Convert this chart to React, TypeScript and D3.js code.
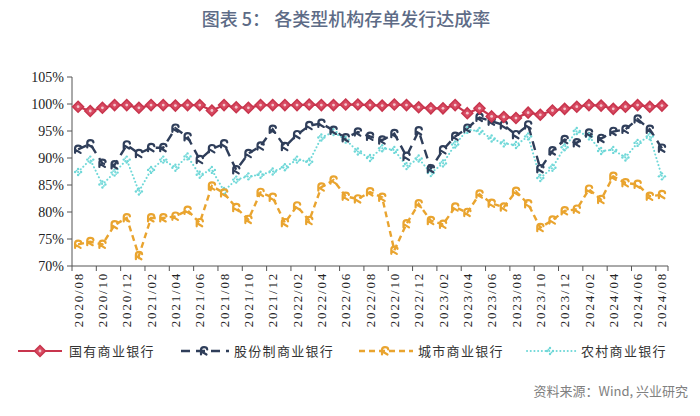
import React from "react";
import * as d3 from "d3";

const months = [
  "2020/08","2020/09","2020/10","2020/11","2020/12","2021/01","2021/02","2021/03","2021/04","2021/05",
  "2021/06","2021/07","2021/08","2021/09","2021/10","2021/11","2021/12","2022/01","2022/02","2022/03",
  "2022/04","2022/05","2022/06","2022/07","2022/08","2022/09","2022/10","2022/11","2022/12","2023/01",
  "2023/02","2023/03","2023/04","2023/05","2023/06","2023/07","2023/08","2023/09","2023/10","2023/11",
  "2023/12","2024/01","2024/02","2024/03","2024/04","2024/05","2024/06","2024/07","2024/08",
];

const stateOwned = [
  99.5, 98.7, 99.3, 99.8, 99.8, 99.3, 99.8, 99.8, 99.7, 99.8,
  99.8, 98.8, 99.8, 99.4, 99.3, 99.8, 99.8, 99.8, 99.8, 99.9,
  99.8, 99.8, 99.9, 99.9, 99.8, 99.7, 99.9, 99.8, 99.4, 99.2,
  99.2, 99.8, 98.3, 99.2, 97.7, 97.6, 97.4, 98.4, 98.0, 98.8,
  99.1, 99.5, 99.8, 99.7, 99.1, 99.5, 99.8, 99.5, 99.7,
];

const jointStock = [
  91.6, 92.6, 89.0, 88.7, 92.4, 90.8, 91.9, 91.9, 95.5, 93.9,
  89.7, 91.7, 92.6, 87.8, 90.8, 92.2, 95.3, 92.1, 94.3, 96.0,
  96.4, 95.1, 93.7, 94.8, 94.0, 93.3, 94.5, 90.3, 95.0, 88.0,
  91.5, 94.0, 95.5, 97.5, 96.8, 96.1, 94.3, 96.1, 88.0, 91.3,
  93.4, 92.8, 94.6, 93.6, 94.9, 95.3, 97.2, 95.3, 91.8,
];

const cityBanks = [
  74.0, 74.5, 74.0, 77.6, 78.9, 71.9, 78.9, 78.9, 79.2, 80.3,
  78.0, 84.8, 83.5, 80.8, 78.6, 83.6, 82.7, 78.0, 81.1, 78.4,
  84.6, 85.9, 82.9, 82.4, 83.7, 82.7, 72.9, 77.8, 81.5, 78.4,
  77.7, 80.9, 79.9, 83.3, 81.6, 80.9, 83.8, 81.5, 77.1, 78.5,
  80.2, 80.5, 84.2, 82.3, 86.6, 85.4, 85.1, 82.9, 83.2,
];

const ruralBanks = [
  87.4, 89.7, 85.1, 87.3, 89.7, 83.8, 87.8, 89.7, 88.2, 90.3,
  86.9, 87.8, 83.9, 86.0, 86.6, 86.9, 87.5, 88.3, 89.7, 89.3,
  93.8, 94.8, 93.4, 91.2, 90.0, 91.8, 91.5, 88.5, 89.9, 87.2,
  89.0, 92.5, 95.2, 95.0, 93.6, 92.7, 92.4, 94.0, 86.3, 88.2,
  92.0, 95.0, 94.0, 91.3, 91.5, 90.1, 92.8, 94.0, 86.6,
];

const yTicks = [70, 75, 80, 85, 90, 95, 100, 105];
const seriesNames = ["国有商业银行", "股份制商业银行", "城市商业银行", "农村商业银行"];

const RED = "#c8354d";
const BLUE = "#2f3e5a";
const ORANGE = "#e9a42f";
const CYAN = "#6fd8d8";

const W = 700, H = 416;
const L = 72, R = 668, T = 77, B = 266;

function Marker({ kind, x, y }: { kind: number; x: number; y: number }) {
  if (kind === 0) {
    return (
      <g transform={`translate(${x},${y})`}>
        <path d="M0,-5.5 L5.5,0 L0,5.5 L-5.5,0 Z" fill="#d84a62" stroke={RED} strokeWidth={1.5} />
        <circle r={1.4} fill="#f4c6cd" />
      </g>
    );
  }
  if (kind === 1 || kind === 2) {
    const c = kind === 1 ? BLUE : ORANGE;
    return (
      <g transform={`translate(${x},${y})`} fill="none" stroke={c} strokeWidth={2.2} strokeLinecap="round">
        <path d="M-3,3.5 L-3,-1 Q-3,-3.8 0,-3.8 Q3,-3.8 3.2,-1.5 M-2.5,0.5 L2.5,3.5" />
      </g>
    );
  }
  return (
    <g transform={`translate(${x},${y})`} fill={CYAN}>
      <circle cx={0} cy={-3} r={1.2} />
      <circle cx={0} cy={3} r={1.2} />
      <circle cx={-3} cy={0} r={1.2} />
      <circle cx={3} cy={0} r={1.2} />
      <circle cx={-1.5} cy={-1.5} r={0.9} />
      <circle cx={1.5} cy={1.5} r={0.9} />
    </g>
  );
}

export default function App() {
  const x = d3.scaleBand<string>().domain(months).range([L, R]).paddingInner(0).paddingOuter(0);
  const bw = x.bandwidth();
  const y = d3.scaleLinear().domain([70, 105]).range([B, T]);
  const cx = (m: string) => (x(m) as number) + bw / 2;

  const all = [stateOwned, jointStock, cityBanks, ruralBanks];
  const lineGen = d3
    .line<number>()
    .x((_, i) => cx(months[i]))
    .y((d) => y(d));

  const styles = [
    { stroke: RED, width: 2.2, dash: undefined as string | undefined },
    { stroke: BLUE, width: 2.4, dash: "9 6" },
    { stroke: ORANGE, width: 2.4, dash: "6 4" },
    { stroke: CYAN, width: 2, dash: "0.1 3.6" },
  ];

  const tickBoundaries = months.map((_, i) => i).filter((i) => i % 2 === 0);
  const serifStyle = { fontFamily: '"Liberation Serif", "Times New Roman", "DejaVu Serif", serif' };
  const cjkStyle = { fontFamily: '"Noto Sans CJK SC", "Noto Sans", sans-serif' };

  const legend = [
    { x1: 18, x2: 62, mx: 40, tx: 69 },
    { x1: 181, x2: 229, mx: 204, tx: 234 },
    { x1: 359, x2: 413, mx: 385, tx: 418 },
    { x1: 527, x2: 576, mx: 550, tx: 581 },
  ];
  const ly = 351;

  return (
    <svg width={W} height={H} style={{ position: "absolute", left: 0, top: 0, background: "#fff" }}>
      <rect width={W} height={H} fill="#fff" />
      <text x={346} y={26} textAnchor="middle" style={cjkStyle} fontSize={18} fontWeight={500} fill="#5d6b86">
        图表 5：  各类型机构存单发行达成率
      </text>

      {/* y axis */}
      <line x1={L} x2={L} y1={T} y2={B} stroke="#555" strokeWidth={1} />
      {yTicks.map((t) => (
        <g key={t}>
          <line x1={L - 5} x2={L} y1={y(t)} y2={y(t)} stroke="#555" />
          <text x={L - 8} y={y(t)} dy="0.35em" textAnchor="end" style={serifStyle} fontSize={14} fill="#222">
            {t}%
          </text>
        </g>
      ))}

      {/* x axis */}
      <line x1={L} x2={R} y1={B} y2={B} stroke="#555" strokeWidth={1} />
      {tickBoundaries.map((i) => (
        <line key={"t" + i} x1={x(months[i]) as number} x2={x(months[i]) as number} y1={B} y2={B + 5} stroke="#555" />
      ))}
      <line x1={R} x2={R} y1={B} y2={B + 5} stroke="#555" />
      {tickBoundaries.map((i) => (
        <text
          key={"l" + i}
          transform={`translate(${cx(months[i])},${B + 6}) rotate(-90)`}
          textAnchor="end"
          dy="0.35em"
          style={serifStyle}
          fontSize={13}
          letterSpacing={1.8}
          fill="#222"
        >
          {months[i]}
        </text>
      ))}

      {/* series lines */}
      {all.map((s, k) => (
        <path
          key={"p" + k}
          d={lineGen(s) as string}
          fill="none"
          stroke={styles[k].stroke}
          strokeWidth={styles[k].width}
          strokeDasharray={styles[k].dash}
          strokeLinecap={k === 3 ? "round" : "butt"}
        />
      ))}
      {[3, 2, 1, 0].map((k) =>
        all[k].map((v, i) => <Marker key={`m${k}-${i}`} kind={k} x={cx(months[i])} y={y(v)} />)
      )}

      {/* legend */}
      {legend.map((l, k) => (
        <g key={"lg" + k}>
          <line
            x1={l.x1}
            x2={l.x2}
            y1={ly}
            y2={ly}
            stroke={styles[k].stroke}
            strokeWidth={styles[k].width}
            strokeDasharray={styles[k].dash}
            strokeLinecap={k === 3 ? "round" : "butt"}
          />
          <Marker kind={k} x={l.mx} y={ly} />
          <text x={l.tx} y={ly} dy="0.36em" style={cjkStyle} fontSize={13} letterSpacing={1.3} fill="#333">
            {seriesNames[k]}
          </text>
        </g>
      ))}

      <text x={688} y={391} dy="0.35em" textAnchor="end" style={cjkStyle} fontSize={13} fill="#808080">
        资料来源：Wind, 兴业研究
      </text>
    </svg>
  );
}
